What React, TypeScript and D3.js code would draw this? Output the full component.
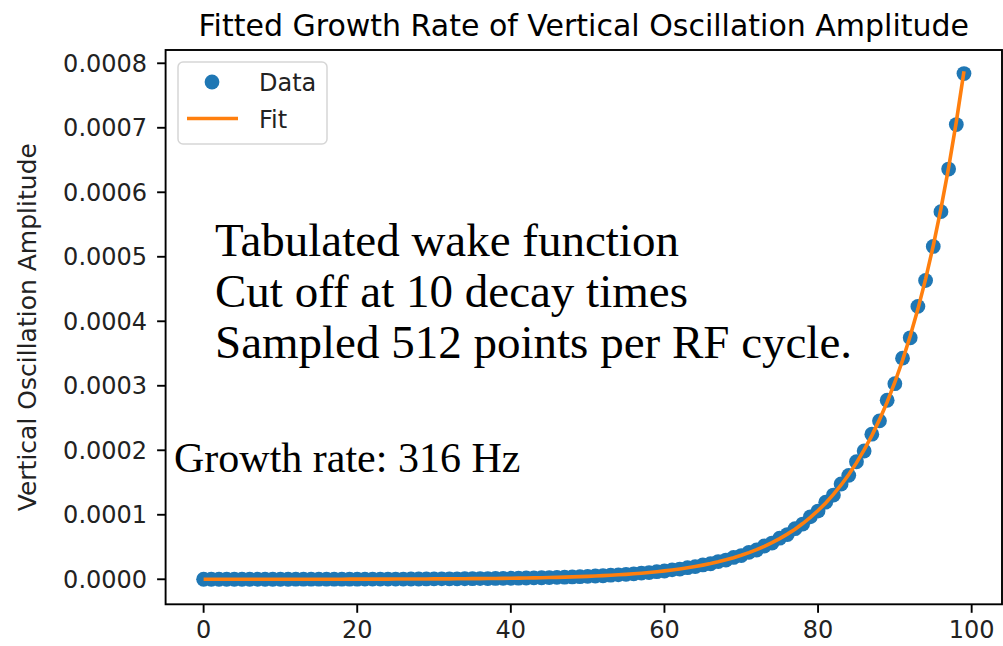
import React from 'react';
import * as d3 from 'd3';

// turn index (x) and amplitudes in micro-units (1e-6)
const turns = [
  0, 1, 2, 3, 4, 5, 6, 7, 8, 9, 10, 11, 12, 13, 14, 15, 16, 17, 18, 19,
  20, 21, 22, 23, 24, 25, 26, 27, 28, 29, 30, 31, 32, 33, 34, 35, 36, 37, 38, 39,
  40, 41, 42, 43, 44, 45, 46, 47, 48, 49, 50, 51, 52, 53, 54, 55, 56, 57, 58, 59,
  60, 61, 62, 63, 64, 65, 66, 67, 68, 69, 70, 71, 72, 73, 74, 75, 76, 77, 78, 79,
  80, 81, 82, 83, 84, 85, 86, 87, 88, 89, 90, 91, 92, 93, 94, 95, 96, 97, 98, 99,
];

const dataAmp = [
  0.02, 0.03, 0.03, 0.03, 0.04, 0.04, 0.04, 0.05, 0.05, 0.06,
  0.07, 0.07, 0.08, 0.09, 0.1, 0.11, 0.13, 0.14, 0.16, 0.17,
  0.19, 0.21, 0.24, 0.26, 0.29, 0.33, 0.36, 0.4, 0.45, 0.5,
  0.55, 0.61, 0.68, 0.76, 0.84, 0.93, 1.04, 1.15, 1.28, 1.42,
  1.58, 1.75, 1.95, 2.16, 2.4, 2.67, 2.97, 3.3, 3.66, 4.07,
  4.5, 5.1, 5.5, 6.3, 6.8, 7.7, 8.4, 9.6, 10.4, 11.8,
  12.8, 14.6, 15.8, 18.0, 19.5, 22.2, 24.1, 27.4, 29.8, 33.9,
  36.8, 41.8, 45.4, 51.6, 56.1, 63.7, 69.3, 78.5, 85.6, 96.9,
  105.7, 119.6, 130.5, 147.7, 161.1, 182.2, 198.9, 225.0, 245.6, 277.6,
  303.2, 342.8, 374.3, 423.1, 463.2, 516.0, 570.0, 636.0, 705.0, 784.0,
];

const fitAmp = [
  0.023, 0.026, 0.029, 0.032, 0.036, 0.04, 0.044, 0.049, 0.054, 0.06,
  0.067, 0.074, 0.083, 0.092, 0.102, 0.113, 0.126, 0.14, 0.155, 0.173,
  0.192, 0.213, 0.237, 0.263, 0.292, 0.325, 0.361, 0.401, 0.445, 0.495,
  0.551, 0.612, 0.68, 0.755, 0.839, 0.932, 1.036, 1.151, 1.279, 1.421,
  1.58, 1.75, 1.95, 2.16, 2.4, 2.67, 2.97, 3.3, 3.66, 4.07,
  4.53, 5.03, 5.59, 6.21, 6.9, 7.66, 8.51, 9.46, 10.51, 11.67,
  12.97, 14.41, 16.01, 17.79, 19.76, 21.96, 24.39, 27.1, 30.11, 33.45,
  37.2, 41.3, 45.9, 51.0, 56.7, 63.0, 70.0, 77.7, 86.4, 95.9,
  106.6, 118.4, 131.6, 146.2, 162.4, 180.4, 200.5, 222.7, 247.5, 274.9,
  305.5, 339.4, 377.1, 418.9, 465.4, 517.1, 574.5, 638.2, 709.1, 787.8,
];

const xTicks = [0, 20, 40, 60, 80, 100];
const yTicks = [0, 100, 200, 300, 400, 500, 600, 700, 800];
const yTickLabels = ['0.0000', '0.0001', '0.0002', '0.0003', '0.0004', '0.0005', '0.0006', '0.0007', '0.0008'];

const notes = ['Tabulated wake function', 'Cut off at 10 decay times', 'Sampled 512 points per RF cycle.'];
const rateNote = 'Growth rate: 316 Hz';

const W = 1003;
const H = 646;
const box = { left: 165.6, right: 1002, top: 50, bottom: 604.3 };
const sans = 'DejaVu Sans, sans-serif';
const serif = 'Liberation Serif, Times New Roman, serif';
const blue = '#1f77b4';
const orange = '#ff7f0e';

export default function App() {
  const x = d3.scaleLinear().domain([-4.95, 103.95]).range([box.left, box.right]);
  const y = d3.scaleLinear().domain([-38.8, 820.6]).range([box.bottom, box.top]);

  const fitLine = d3
    .line<number>()
    .x((_d, i) => x(turns[i]))
    .y((d) => y(d))(fitAmp);

  const tickLen = 8.5;

  return (
    <svg
      width={W}
      height={H}
      style={{ position: 'fixed', left: 0, top: 0, background: '#fff' }}
      fontFamily={sans}
    >
      <rect width={W} height={H} fill="#fff" />

      <text x={(box.left + box.right) / 2} y={36} textAnchor="middle" fontSize={30} fill="#000">
        Fitted Growth Rate of Vertical Oscillation Amplitude
      </text>

      <g>
        {dataAmp.map((v, i) => (
          <circle key={i} cx={x(turns[i])} cy={y(v)} r={7.4} fill={blue} />
        ))}
      </g>
      <path d={fitLine ?? ''} fill="none" stroke={orange} strokeWidth={3.6} />

      {/* spines */}
      <rect
        x={box.left}
        y={box.top}
        width={box.right - box.left}
        height={box.bottom - box.top}
        fill="none"
        stroke="#000"
        strokeWidth={1.9}
      />

      {/* x axis */}
      {xTicks.map((t) => (
        <g key={t} transform={`translate(${x(t)},${box.bottom})`}>
          <line y2={tickLen} stroke="#000" strokeWidth={1.9} />
          <text y={tickLen + 25.5} textAnchor="middle" fontSize={24} fill="#222">
            {t}
          </text>
        </g>
      ))}

      {/* y axis */}
      {yTicks.map((t, i) => (
        <g key={t} transform={`translate(${box.left},${y(t)})`}>
          <line x2={-tickLen} stroke="#000" strokeWidth={1.9} />
          <text x={-tickLen - 10} dy="0.36em" textAnchor="end" fontSize={24} fill="#222">
            {yTickLabels[i]}
          </text>
        </g>
      ))}

      <text
        transform={`translate(36,${(box.top + box.bottom) / 2}) rotate(-90)`}
        textAnchor="middle"
        fontSize={25}
        fill="#222"
      >
        Vertical Oscillation Amplitude
      </text>

      {/* legend */}
      <g>
        <rect x={178} y={62} width={149} height={82} rx={5} fill="#fff" fillOpacity={0.8} stroke="#d6d6d6" strokeWidth={1.5} />
        <circle cx={212} cy={82} r={7.4} fill={blue} />
        <line x1={187} x2={238} y1={118.5} y2={118.5} stroke={orange} strokeWidth={3.6} />
        <text x={259} y={82} dy="0.36em" fontSize={24} fill="#222">
          Data
        </text>
        <text x={259} y={119} dy="0.36em" fontSize={24} fill="#222">
          Fit
        </text>
      </g>

      {/* annotations */}
      <g fontFamily={serif} fill="#000">
        {notes.map((n, i) => (
          <text key={n} x={215} y={256 + i * 51} fontSize={47}>
            {n}
          </text>
        ))}
        <text x={174} y={472} fontSize={42}>
          {rateNote}
        </text>
      </g>
    </svg>
  );
}
